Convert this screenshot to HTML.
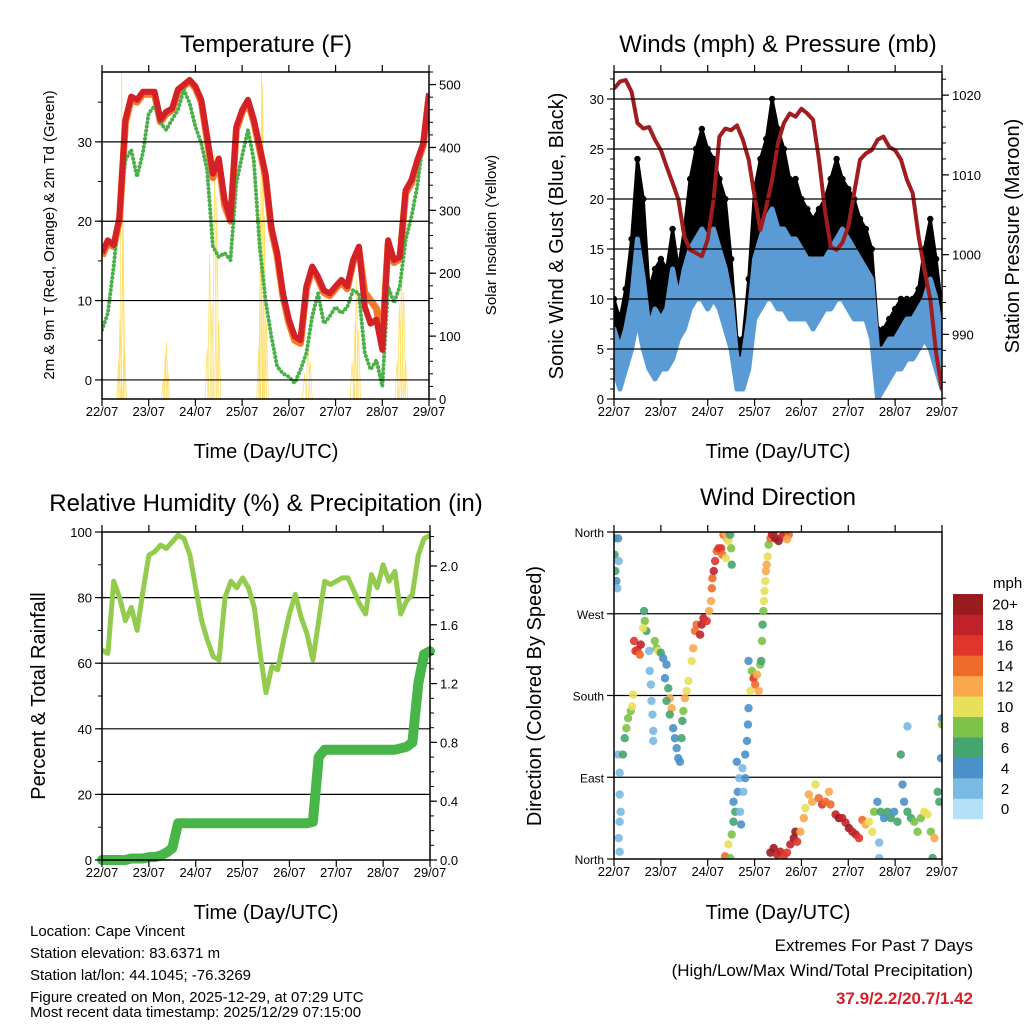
<!DOCTYPE html>
<html><head><meta charset="utf-8"><style>
html,body{margin:0;padding:0;background:#fff;}
svg{display:block;font-family:"Liberation Sans",Arial,sans-serif;}
</style></head><body>
<svg id="root" width="1024" height="1024" viewBox="0 0 1024 1024" xmlns="http://www.w3.org/2000/svg">
<rect x="0" y="0" width="1024" height="1024" fill="#fff"/>
<g id="layerMarks"></g>
<g id="layerAxes"></g>
<text x="266" y="52" font-size="24" text-anchor="middle">Temperature (F)</text>
<text x="778" y="52" font-size="24" text-anchor="middle">Winds (mph) &amp; Pressure (mb)</text>
<text x="266" y="511" font-size="24" text-anchor="middle">Relative Humidity (%) &amp; Precipitation (in)</text>
<text x="778" y="505" font-size="24" text-anchor="middle">Wind Direction</text>
<text x="266" y="458" font-size="20" text-anchor="middle">Time (Day/UTC)</text>
<text x="778" y="458" font-size="20" text-anchor="middle">Time (Day/UTC)</text>
<text x="266" y="919" font-size="20" text-anchor="middle">Time (Day/UTC)</text>
<text x="778" y="919" font-size="20" text-anchor="middle">Time (Day/UTC)</text>
<text transform="translate(54,235) rotate(-90)" font-size="15" text-anchor="middle">2m &amp; 9m T (Red, Orange) &amp; 2m Td (Green)</text>
<text transform="translate(496,235) rotate(-90)" font-size="15" text-anchor="middle">Solar Insolation (Yellow)</text>
<text transform="translate(563,236) rotate(-90)" font-size="20" text-anchor="middle">Sonic Wind &amp; Gust (Blue, Black)</text>
<text transform="translate(1019,236) rotate(-90)" font-size="20" text-anchor="middle">Station Pressure (Maroon)</text>
<text transform="translate(45,696) rotate(-90)" font-size="20" text-anchor="middle">Percent &amp; Total Rainfall</text>
<text transform="translate(541,696) rotate(-90)" font-size="20" text-anchor="middle">Direction (Colored By Speed)</text>
<text x="993" y="588" font-size="15">mph</text>
<g font-size="15">
<text x="30" y="936">Location: Cape Vincent</text>
<text x="30" y="958">Station elevation: 83.6371 m</text>
<text x="30" y="980">Station lat/lon: 44.1045; -76.3269</text>
<text x="30" y="1002">Figure created on Mon, 2025-12-29, at 07:29 UTC</text>
<text x="30" y="1017">Most recent data timestamp: 2025/12/29 07:15:00</text>
</g>
<text x="973" y="951" font-size="17" text-anchor="end">Extremes For Past 7 Days</text>
<text x="973" y="976" font-size="17" text-anchor="end">(High/Low/Max Wind/Total Precipitation)</text>
<text x="973" y="1004" font-size="17" font-weight="bold" fill="#d62028" text-anchor="end">37.9/2.2/20.7/1.42</text>
</svg>
<script>
// ---------- DATA ----------
const dayLabels = ["22/07","23/07","24/07","25/07","26/07","27/07","28/07","29/07"];
const stepHours = 3;
const temp2m = [16.0,17.6,17,20.6,32.8,35.7,35.3,36.3, 36.3,36.3,32.8,33.8,34.2,36.6,37.2,37.8, 37,35.3,30.7,26,27.9,22.7,20.2,31.9, 34,35.3,32.8,29.4,26,19.3,16,10.9, 7.6,5.5,5,11.8,14.3,13,11.3,10.9, 11.8,12.6,11.8,15.1,16.8,9.2,7.1,7.6, 3.8,17.6,15.1,15.5,23.9,25.2,27.7,29.8, 36.1];
const temp9m = [15.6,17.2,16.8,20.2,32.4,35.4,35.0,36.0, 36.0,36.0,32.5,33.5,34.0,36.3,37.0,37.6, 36.8,35.0,30.3,25.5,27.5,22.0,20.0,31.5, 33.7,35.0,32.5,29.0,25.6,19.0,15.6,10.5, 7.2,5.0,4.6,11.4,14.0,12.7,11.0,10.6, 11.5,12.3,11.5,14.8,16.5,11.0,10.0,9.0, 5.0,17.2,14.8,15.2,23.5,24.8,27.3,29.5, 35.8];
const dewpoint = [6.3,8.4,14.3,21.8,27.7,29,25.6,28.6, 33.6,34.5,32.4,31.5,32.8,34,36.6,34.9, 31.9,29.8,26.5,16.8,15.5,16,15.1,24.8, 28.2,31.5,27.7,16.8,10.1,5.5,1.7,0.8, 0.4,-0.4,1.3,3.4,8,10.9,7.1,8, 9.2,8.4,9.2,11.3,10.9,3.4,1.3,2.5, -0.8,11.8,9.7,11.8,17.6,20.6,24.4,30.3, 34.5];
const solarHour = [8.5,9.3,10.1,10.8,11.6, 31.5,32.5,33.1,34, 54,55.3,56.5,57.9,59,60, 80.5,81.5,82,82.6,83.5,84.5, 104,105.9,107, 128.5,130,130.7,131.8, 151.5,152.8,153.9,155,156];
const solarVal = [60,130,520,300,80, 30,70,90,40, 80,230,150,390,320,120, 80,300,520,500,290,120, 40,90,60, 60,120,190,110, 60,150,200,170,60];
const pressure = [1020.8,1021.7,1021.9,1020.4,1016.5,1015.8,1016,1014.4, 1013.1,1011,1009,1006.9,1002.3,1000.6,1000.2,999.8, 1001.9,1006.9,1014.8,1015.8,1015.6,1016.2,1014.4,1011.9, 1007.3,1003.1,1006,1009.4,1014,1016.5,1017.7,1017.3, 1018.3,1017.7,1016.9,1011.9,1005.6,1001,1000.6,1001.5, 1003.5,1007.7,1011.9,1012.7,1013.1,1014.4,1014.8,1013.5, 1013.1,1011.9,1009.4,1007.7,1002.3,998.1,994.4,987.7, 983.1];
const windLo = [3,1,3,5,8,5,3,2, 3,3,4,6,7,9,10,10, 9,10,9,7,5,1,1,3, 8,9,10,10,9,9,8,8, 8,8,7,8,9,9,10,10, 9,8,8,8,6,0,1,2, 3,3,4,4,5,6,5,3, 1];
const windHi = [7,5,7,10,16,12,7,9, 8,9,13,10,13,15,16,17, 16,17,15,13,10,4,4,8, 14,16,18,19,17,17,16,16, 15,14,14,14,14,15,16,17, 16,15,14,13,12,5,5,6, 6,7,8,8,9,10,12,10, 6];
const gustHi = [10,8,11,16,24,20,11,13, 14,13,17,13,17,22,25,27, 25,24,22,20,14,6,6,12, 21,24,26,30,27,25,22,22, 20,19,18,19,20,22,24,22, 21,20,18,17,15,7,7,8, 9,10,10,10,11,15,18,14, 9];
const rh = [64,63,85,80,73,77,70,82, 93,94,96,95,97,99,98,93, 83,73,67,62,61,80,85,83, 86,83,77,63,51,59,58,67, 75,81,74,69,61,73,85,84, 85,86,86,82,78,75,87,83, 90,85,88,75,79,81,93,98, 99];
const precip = [0,0,0,0,0,0.01,0.01,0.01, 0.02,0.02,0.03,0.05,0.08,0.25,0.25,0.25, 0.25,0.25,0.25,0.25,0.25,0.25,0.25,0.25, 0.25,0.25,0.25,0.25,0.25,0.25,0.25,0.25, 0.25,0.25,0.25,0.25,0.26,0.70,0.75,0.75, 0.75,0.75,0.75,0.75,0.75,0.75,0.75,0.75, 0.75,0.75,0.75,0.76,0.77,0.80,1.20,1.40, 1.42];
const dirHour = [0,0.3,0.7,1.2,1.7,2.1,2.4, 2.1,2.9,2.9,3.4,2.9,2.4,2.9, 4.6,5.5,6.3,7.2,8.6,9.3,9.8, 10.3,11,12,13.2,13.7, 15.4,15.8,16.6,14.9, 18,18.3,18.9,19.2,19.7,20.1,20.1, 20.9,21.8,22.6,24,25.2,26.9,26.1,27.8,28.6,29.5, 26.9,28.6,30.3,31.2,32.1,32.9,33.8,34.6,35,35.5, 36.3,37.2,38.1,39.8,40.6,41.5,42.3,44.1,44.9,45.8,47.5,48.7,49.7,50.1,50.4,51.1,51.8,52.6,53.5,54.9,55.5,56.1,56.9,57.8,58.6,59.5,60,60.3,57.3, 68.9,68.9,68.6,68.1,67.2,65.8,64.1,62.9,63.4,61.2,62.1,61.2,65.1,64.6,66.3,67.2, 56.9,58.6,59.5,60.3, 70.6,71.5,72.3,73.2,74.1,74.9,75.4,69.8, 75.8,76.1,76.5,76.8,77.1,77.5,77.8,78.2,78.7,79.2,80.1, 80.9,82.6,84.3,86.1,87.8,89.5,81.8,88.6, 80.1,81.8,83.5,85.2,86.9,88.6,90.3,92.1,93.8,92.9,95.5,97.2,98.1, 99.8,101.5,103.2,104.9,106.6,108.3,110.1,110.9,113.5,115.2,116.9,118.6,120.3,122.1,123.8,125.5,127.2,128.9,130.6,132.3,133.2, 134.9,136.6,138.3,140.1,141.8,143.5,145.2,146.9,147.8,148.6,150.3,152.1,153.8,155.5,157.2,158.9,160.6,162.3,164.1,165.8,166.6,167.5,168,168,150.3,135.8,135.8,163.2];
const dirDeg = [353,335,317,306,298,353,328, 115,95,71,52,41,23,8, 115,133,144,155,163,168,181, 240,229,230,225,236, 273,262,251,254, 229,207,192,174,159,141,130, 240,232,229,227,221,214,199,188,177,166, 174,159,144,133,122,111,107,133,152,163, 177,185,196,218,232,251,258,247,258,265,262,273,284,298,309,317,328,339,342,342,335,357,359,353,350,357,342,324,331, 218,166,148,130,115,100,89,107,74,63,52,41,38,52,74,89, 3,16,1,27, 207,199,192,203,185,214,218,185, 240,258,273,284,295,306,317,324,333,346,353, 357,353,350,355,357,357,359,352, 7,12,5,8,3,7,16,23,19,30,30,45,56, 71,63,82,67,60,63,74,60,49,45,45,40,34,30,27,23,43,38,41,30,52, 63,52,45,52,45,52,41,115,82,63,52,45,41,30,45,52,49,30,23,74,63,111,155,148,146,1,18,1];
const dirSpeed = [6,5,6,3,2,3,2, 2,2,1,1,1,2,1, 5,6,7,7,8,10,9, 15,16,15,14,17, 6,7,5,10, 2,2,2,2,2,2,2, 7,8,9,5,4,4,4,5,11,12, 6,6,4,4,4,4,4,6,6,7, 12,10,9,10,12,13,13,17,18,17,15,11,11,13,14,17,16,14,15,16,13,14,12,11,9,6,7,6,10, 4,4,4,4,3,2,2,4,3,4,6,6,4,2,2,3, 13,10,8,7, 8,16,14,11,12,7,6,9, 7,6,7,9,10,10,11,12,10,8,13, 18,19,20,18,16,14,17,11, 19,20,18,17,16,15,18,19,16,20,12,11,10, 11,12,10,14,15,13,11,14,18,20,18,17,19,18,17,16,13,12,9,10,7, 4,5,3,6,5,4,6,5,4,3,6,5,7,8,7,9,10,8,12,5,6,4,4,7,1,1,1,6];
const speedColors = ["#b5e1f6","#7ab9e3","#4a90c8","#45a46e","#7dc24a","#e8e05a","#f9a94b","#f06a2a","#e0352b","#c0222a","#9a1b1e"];
const speedLabels = ["0","2","4","6","8","10","12","14","16","18","20+"];
const tempTicks = [0,10,20,30];
const solarTicks = [0,100,200,300,400,500];
const windTicks = [0,5,10,15,20,25,30];
const pressTicks = [990,1000,1010,1020];
const rhTicks = [0,20,40,60,80,100];
const rainTicks = [0.0,0.4,0.8,1.2,1.6,2.0];
const dirTicks = [0,90,180,270,360];
const dirTickLabels = ["North","East","South","West","North"];

// ---------- HELPERS ----------
const NS = "http://www.w3.org/2000/svg";
const marks = document.getElementById("layerMarks");
const axes = document.getElementById("layerAxes");
function mk(tag, attrs, parent){const e=document.createElementNS(NS,tag);for(const k in attrs)e.setAttribute(k,attrs[k]);parent.appendChild(e);return e;}
function lin(d0,d1,r0,r1){return v=>r0+(v-d0)*(r1-r0)/(d1-d0);}
const TOTAL_H = 168;
const P = {
  temp:{x0:102,x1:429,y0:72,y1:399},
  wind:{x0:614,x1:942,y0:72,y1:399},
  rh:{x0:102,x1:430,y0:532,y1:860},
  dir:{x0:614,x1:942,y0:532,y1:859}
};
for(const k in P){const p=P[k];p.x=lin(0,TOTAL_H,p.x0,p.x1);}
P.temp.yl=lin(-2.4,38.8,399,72); P.temp.yr=lin(0,520,399,72);
P.wind.yl=lin(0,32.7,399,72); P.wind.yr=lin(981.9,1022.9,399,72);
P.rh.yl=lin(0,100,860,532); P.rh.yr=lin(0,2.231,860,532);
P.dir.yl=lin(0,360,859,532);

function clipFor(p,id){
  const cp=mk("clipPath",{id:id},marks);
  mk("rect",{x:p.x0,y:p.y0,width:p.x1-p.x0,height:p.y1-p.y0},cp);
  return "url(#"+id+")";
}
function pathFrom(arr,p,ys){let d="";arr.forEach((v,i)=>{d+=(i?"L":"M")+p.x(i*stepHours).toFixed(1)+" "+ys(v).toFixed(1);});return d;}

function frame(p,key){
  const g=mk("g",{},axes);
  
  
  const b=mk("rect",{x:p.x0,y:p.y0,width:p.x1-p.x0,height:p.y1-p.y0,fill:"none",stroke:"#000","stroke-width":1.5},g);
  
  
  dayLabels.forEach((lab,i)=>{
    const x=p.x(i*24);
    const t1=mk("line",{x1:x,x2:x,y1:p.y1,y2:p.y1+7,stroke:"#000","stroke-width":1.2},g);
    
    
    const t2=mk("line",{x1:x,x2:x,y1:p.y0,y2:p.y0-7,stroke:"#000","stroke-width":1.2},g);
    
    
    const tx=mk("text",{x:x,y:p.y1+17,"font-size":13,"text-anchor":"middle"},g);
    tx.textContent=lab;
    
    
  });
}
function yAxis(p,key,ticks,labels,ys,side,minorStep,grid,fontSize){
  const g=mk("g",{},axes);
  
  
  const xe= side==="left"?p.x0:p.x1, dir= side==="left"?-1:1;
  if(minorStep){
    for(let v=ticks[0]-minorStep*20; v<=ticks[ticks.length-1]+minorStep*20; v+=minorStep){
      const y=ys(v); if(y<p.y0-0.5||y>p.y1+0.5)continue;
      const m=mk("line",{x1:xe,x2:xe+dir*4,y1:y,y2:y,stroke:"#000","stroke-width":1},g);
      
      
    }
  }
  ticks.forEach((v,i)=>{
    const y=ys(v);
    if(grid && y>p.y0+1 && y<p.y1-1){
      const gl=mk("line",{x1:p.x0,x2:p.x1,y1:y,y2:y,stroke:"#000","stroke-width":1.2},marks);
      
      
    }
    const t=mk("line",{x1:xe,x2:xe+dir*7,y1:y,y2:y,stroke:"#000","stroke-width":1.2},g);
    
    
    const tx=mk("text",{x:xe+dir*10,y:y+5,"font-size":fontSize||13,"text-anchor":side==="left"?"end":"start"},g);
    tx.textContent=labels[i];
    
    
  });
}

// ---------- TEMPERATURE ----------
(function(){
  const p=P.temp, clip=clipFor(p,"clipT");
  const g=mk("g",{"clip-path":clip},marks);
  
  
  solarHour.forEach((h,i)=>{
    const pts=[p.x(h-1)+","+p.yr(0), p.x(h)+","+p.yr(solarVal[i]), p.x(h+1)+","+p.yr(0)].join(" ");
    const s=mk("polyline",{points:pts,fill:"none",stroke:"#ffd84a","stroke-width":0.8,opacity:0.8},g);
    
    
  });
  const t9=mk("path",{d:pathFrom(temp9m,p,p.yl),fill:"none",stroke:"#f47a2a","stroke-width":7,"stroke-linejoin":"round"},g);
  
  
  const td=mk("path",{d:pathFrom(dewpoint,p,p.yl),fill:"none",stroke:"#4bb04a","stroke-width":4,"stroke-dasharray":"0.1 4","stroke-linecap":"round","stroke-linejoin":"round"},g);
  
  
  const t2=mk("path",{d:pathFrom(temp2m,p,p.yl),fill:"none",stroke:"#d42027","stroke-width":6,"stroke-linejoin":"round"},g);
  
  
  yAxis(p,"temperature",tempTicks,tempTicks.map(String),p.yl,"left",5,true);
  yAxis(p,"solar",solarTicks,solarTicks.map(String),p.yr,"right",20,false);
  frame(p,"temperature");
})();

// ---------- WINDS ----------
(function(){
  const p=P.wind, clip=clipFor(p,"clipW");
  const g=mk("g",{"clip-path":clip},marks);
  
  
  function band(lo,hi){
    let d="";hi.forEach((v,i)=>{d+=(i?"L":"M")+p.x(i*stepHours).toFixed(1)+" "+p.yl(v).toFixed(1);});
    for(let i=lo.length-1;i>=0;i--)d+="L"+p.x(i*stepHours).toFixed(1)+" "+p.yl(lo[i]).toFixed(1);
    return d+"Z";
  }
  const gb=mk("path",{d:band(windHi,gustHi),fill:"#000",stroke:"#000","stroke-width":3,"stroke-linejoin":"round"},g);
  
  
  gustHi.forEach((v,i)=>{
    const c=mk("circle",{cx:p.x(i*stepHours),cy:p.yl(v),r:3.2,fill:"#000"},g);
    
    
  });
  const wb=mk("path",{d:band(windLo,windHi),fill:"#5b9bd5",stroke:"#5b9bd5","stroke-width":5,"stroke-linejoin":"round"},g);
  
  
  yAxis(p,"wind",windTicks,windTicks.map(String),p.yl,"left",1,true);
  yAxis(p,"pressure",pressTicks,pressTicks.map(String),p.yr,"right",2,false);
  const pr=mk("path",{d:pathFrom(pressure,p,p.yr),fill:"none",stroke:"#a01c1f","stroke-width":4,"stroke-linejoin":"round"},g);
  
  
  frame(p,"wind");
})();

// ---------- RH / PRECIP ----------
(function(){
  const p=P.rh, clip=clipFor(p,"clipR");
  yAxis(p,"humidity",rhTicks,rhTicks.map(String),p.yl,"left",10,true);
  yAxis(p,"rainfall",rainTicks,rainTicks.map(v=>v.toFixed(1)),p.yr,"right",0.1,false);
  const g=mk("g",{},marks);
  
  
  const r=mk("path",{d:pathFrom(rh,p,p.yl),fill:"none",stroke:"#93cb4f","stroke-width":5,"stroke-linejoin":"round","clip-path":clip},g);
  
  
  const pc=mk("path",{d:pathFrom(precip,p,p.yr),fill:"none",stroke:"#48b548","stroke-width":10,"stroke-linejoin":"round","stroke-linecap":"round"},g);
  
  
  frame(p,"humidity");
})();

// ---------- WIND DIRECTION ----------
(function(){
  const p=P.dir, clip=clipFor(p,"clipD");
  yAxis(p,"direction",dirTicks,dirTickLabels,p.yl,"left",0,true,12);
  const g=mk("g",{"clip-path":clip},marks);
  
  
  dirHour.forEach((h,i)=>{
    const idx=Math.min(10,Math.round(dirSpeed[i]/2));
    const c=mk("circle",{cx:p.x(h),cy:p.yl(dirDeg[i]),r:4.2,fill:speedColors[idx],opacity:0.9},g);
    
    
  });
  frame(p,"direction");
  const cb=mk("g",{},axes);
  
  
  const top=594,h=20.45;
  speedLabels.forEach((lab,i)=>{
    const j=speedLabels.length-1-i;
    const y=top+j*h;
    const r=mk("rect",{x:953,y:y,width:30,height:h+0.3,fill:speedColors[i]},cb);
    
    
    const t=mk("text",{x:1005,y:y+h/2+5.5,"font-size":15,"text-anchor":"middle"},cb);
    t.textContent=lab;
    
    
  });
})();
</script>
</body></html>
